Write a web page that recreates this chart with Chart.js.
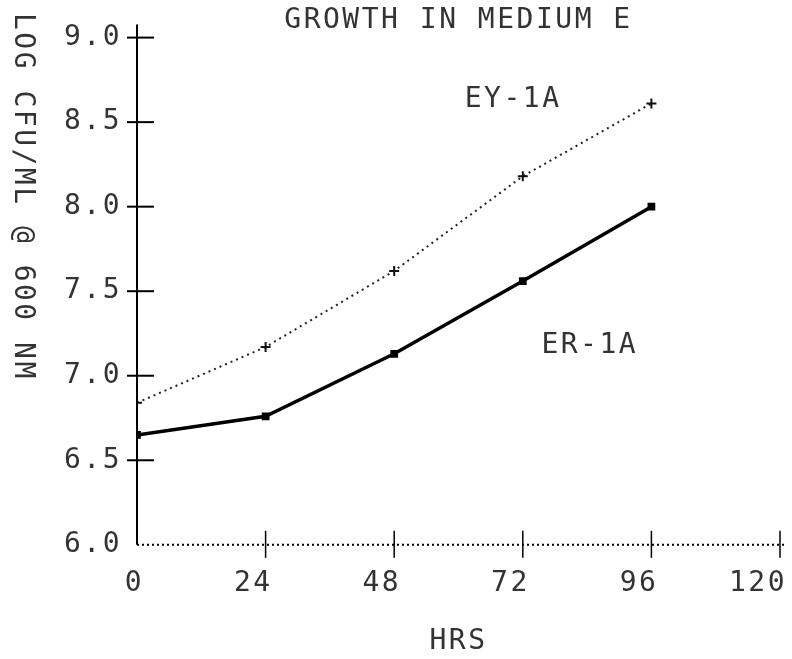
<!DOCTYPE html>
<html>
<head>
<meta charset="utf-8">
<script src="https://cdn.jsdelivr.net/npm/chart.js@4"></script>
<style>
  html, body { margin: 0; padding: 0; background: #fff; }
  #wrap { width: 792px; height: 659px; }
</style>
</head>
<body>
<div id="wrap"><canvas id="myChart"></canvas></div>
<script>
// data
let hours = [0, 24, 48, 72, 96];
let ey1a = [6.84, 7.17, 7.62, 8.18, 8.61];
let er1a = [6.65, 6.76, 7.13, 7.56, 8.0];
let xTickValues = [0, 24, 48, 72, 96, 120];
let yTickValues = [6.0, 6.5, 7.0, 7.5, 8.0, 8.5, 9.0];

let ink = "#333";
let spacing = "2.5px";
Chart.defaults.font.family = "'DejaVu Sans Mono', monospace";
Chart.defaults.font.size = 28;
Chart.defaults.color = ink;

// where the series names sit, in data units
let seriesLabels = [
  { text: "EY-1A", x: 70.2, y: 8.63 },
  { text: "ER-1A", x: 84.5, y: 7.18 },
];

// plotter look: letter spacing, dotted x axis, crossing ticks, extra texts
let plotter = {
  id: "plotter",
  beforeLayout(chart) {
    chart.ctx.letterSpacing = spacing;
  },
  beforeDraw(chart) {
    chart.ctx.letterSpacing = spacing;
  },
  afterDraw(chart) {
    let ctx = chart.ctx;
    let x = chart.scales.x;
    let y = chart.scales.y;
    let x0 = x.getPixelForValue(0);
    let y0 = y.getPixelForValue(6);
    ctx.save();
    ctx.strokeStyle = "#000";

    // dotted x axis
    ctx.lineWidth = 2;
    ctx.setLineDash([2, 3]);
    ctx.beginPath();
    ctx.moveTo(x0, y0);
    ctx.lineTo(x.getPixelForValue(120) + 6, y0);
    ctx.stroke();
    ctx.setLineDash([]);

    // y axis runs a bit past the top tick
    ctx.beginPath();
    ctx.moveTo(x0, y.getPixelForValue(9) - 13);
    ctx.lineTo(x0, y0);
    ctx.stroke();
    yTickValues.slice(1).forEach((v) => {
      let py = y.getPixelForValue(v);
      ctx.beginPath();
      ctx.moveTo(x0 - 10, py);
      ctx.lineTo(x0 + 17, py);
      ctx.stroke();
    });
    ctx.lineWidth = 1.5;
    xTickValues.slice(1).forEach((v) => {
      let px = x.getPixelForValue(v);
      ctx.beginPath();
      ctx.moveTo(px, y0 - 14);
      ctx.lineTo(px, y0 + 13);
      ctx.stroke();
    });

    ctx.fillStyle = ink;
    ctx.font = "28px 'DejaVu Sans Mono', monospace";
    ctx.letterSpacing = spacing;
    ctx.textAlign = "center";
    ctx.textBaseline = "middle";
    seriesLabels.forEach((l) => {
      ctx.fillText(l.text, x.getPixelForValue(l.x), y.getPixelForValue(l.y));
    });

    // vertical axis name, reading downwards
    ctx.translate(22, 13);
    ctx.rotate(Math.PI / 2);
    ctx.textAlign = "left";
    ctx.fillText("LOG CFU/ML @ 600 NM", 0, 0);
    ctx.restore();
  },
};

let ctx = document.getElementById("myChart").getContext("2d");

let myChart = new Chart(ctx, {
  type: "line",
  data: {
    labels: hours,
    datasets: [
      {
        label: "EY-1A",
        data: hours.map((h, i) => ({ x: h, y: ey1a[i] })),
        borderColor: "#222",
        borderWidth: 2,
        borderDash: [2, 4],
        pointStyle: "cross",
        pointRadius: 5,
        pointBorderWidth: 2,
        pointBorderColor: "#111",
        tension: 0,
      },
      {
        label: "ER-1A",
        data: hours.map((h, i) => ({ x: h, y: er1a[i] })),
        borderColor: "#000",
        borderWidth: 3.5,
        pointStyle: "rect",
        pointRadius: 3,
        pointBackgroundColor: "#000",
        pointBorderColor: "#000",
        tension: 0,
      },
    ],
  },
  options: {
    responsive: true,
    maintainAspectRatio: false,
    animation: false,
    layout: { padding: { left: 0, right: 12, top: 0, bottom: 0 } },
    plugins: {
      legend: { display: false },
      tooltip: { enabled: false },
      title: {
        display: true,
        text: "GROWTH IN MEDIUM E",
        fullSize: false,
        font: { size: 28, weight: "normal" },
        color: ink,
        padding: { top: 4, bottom: 0 },
      },
    },
    scales: {
      x: {
        type: "linear",
        min: 0,
        max: 120,
        afterBuildTicks: (scale) => {
          scale.ticks = xTickValues.map((v) => ({ value: v }));
        },
        afterFit: (scale) => {
          scale.paddingLeft = 0;
          scale.paddingRight = 0;
        },
        grid: { display: true, drawOnChartArea: false, drawTicks: false },
        border: { display: false },
        ticks: {
          align: "end",
          labelOffset: 7,
          padding: 22,
          maxRotation: 0,
          color: ink,
        },
        title: {
          display: true,
          text: "HRS",
          color: ink,
          font: { size: 28 },
          padding: { top: 3, bottom: 0 },
        },
      },
      y: {
        min: 6,
        max: 9,
        afterBuildTicks: (scale) => {
          scale.ticks = yTickValues.map((v) => ({ value: v }));
        },
        afterFit: (scale) => {
          scale.width = 137;
        },
        grid: { display: true, drawOnChartArea: false, drawTicks: false },
        border: { display: false },
        ticks: {
          padding: 15,
          color: ink,
          callback: (v) => v.toFixed(1),
        },
      },
    },
  },
  plugins: [plotter],
});
</script>
</body>
</html>
